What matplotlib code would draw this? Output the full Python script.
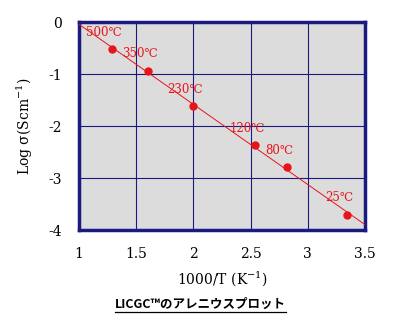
import numpy as np
import matplotlib
matplotlib.use("Agg")
import matplotlib.pyplot as plt
from matplotlib.lines import Line2D

# =============================================================================
# Data
# =============================================================================

temps_c = ["500℃", "350℃", "230℃", "120℃", "80℃", "25℃"]
inv_t = [1.29, 1.60, 2.00, 2.54, 2.82, 3.34]          # 1000/T (K^-1)
log_sigma = [-0.52, -0.94, -1.62, -2.37, -2.79, -3.71]  # Log sigma (S/cm)

x_ticks = [1, 1.5, 2, 2.5, 3, 3.5]
x_tick_labels = ["1", "1.5", "2", "2.5", "3", "3.5"]
y_ticks = [0, -1, -2, -3, -4]
y_tick_labels = ["0", "-1", "-2", "-3", "-4"]

caption = "LICGC™のアレニウスプロット"

# =============================================================================
# Plot
# =============================================================================

plt.rcParams["mathtext.fontset"] = "dejavuserif"
navy = "#1a1a80"
red = "#e8141a"

fig = plt.figure(figsize=(4.0, 3.2), dpi=100)
ax = fig.add_axes([0.1975, 0.281, 0.715, 0.65])
ax.set_facecolor("#dcdcdc")

ax.set_xlim(1, 3.5)
ax.set_ylim(-4, 0)
ax.set_xticks(x_ticks)
ax.set_xticklabels(x_tick_labels)
ax.set_yticks(y_ticks)
ax.set_yticklabels(y_tick_labels)
ax.tick_params(length=0, labelsize=10, colors="black")
ax.tick_params(axis="x", pad=12)
ax.tick_params(axis="y", pad=12)
for lab in ax.get_xticklabels() + ax.get_yticklabels():
    lab.set_family("DejaVu Serif")

ax.grid(True, color=navy, linewidth=0.8)
ax.set_axisbelow(True)
for side in ["left", "bottom", "right", "top"]:
    ax.spines[side].set_color(navy)
    ax.spines[side].set_linewidth(2.5)

# fitted Arrhenius line across the whole axis
coef = np.polyfit(inv_t, log_sigma, 1)
xs = np.array([1.0, 3.5])
ax.plot(xs, np.polyval(coef, xs), color=red, linewidth=0.7, zorder=3)
ax.plot(inv_t, log_sigma, "o", color=red, markersize=5, zorder=4)

for t, x, y in zip(temps_c, inv_t, log_sigma):
    ax.annotate(t, (x, y), xytext=(-8, 17), textcoords="offset pixels",
                ha="center", va="center", color=red, fontsize=8.5,
                family=["DejaVu Serif"], zorder=5)

ax.set_xlabel("1000/T (K$^{-1}$)", family="DejaVu Serif", fontsize=10, labelpad=6)
ax.set_ylabel("Log σ(Scm$^{-1}$)", family="DejaVu Serif", fontsize=10, labelpad=10)

cap = fig.text(0.5, 0.05, caption, ha="center", va="center", fontsize=9,
               fontweight="bold", family=["Noto Sans CJK JP", "DejaVu Sans"])

# underline the caption
fig.canvas.draw()
bb = cap.get_window_extent().transformed(fig.transFigure.inverted())
fig.add_artist(Line2D([bb.x0, bb.x1], [bb.y0 - 0.004, bb.y0 - 0.004],
                      transform=fig.transFigure, color="black", linewidth=0.9))

fig.savefig("out.png", dpi=100, facecolor="white")
